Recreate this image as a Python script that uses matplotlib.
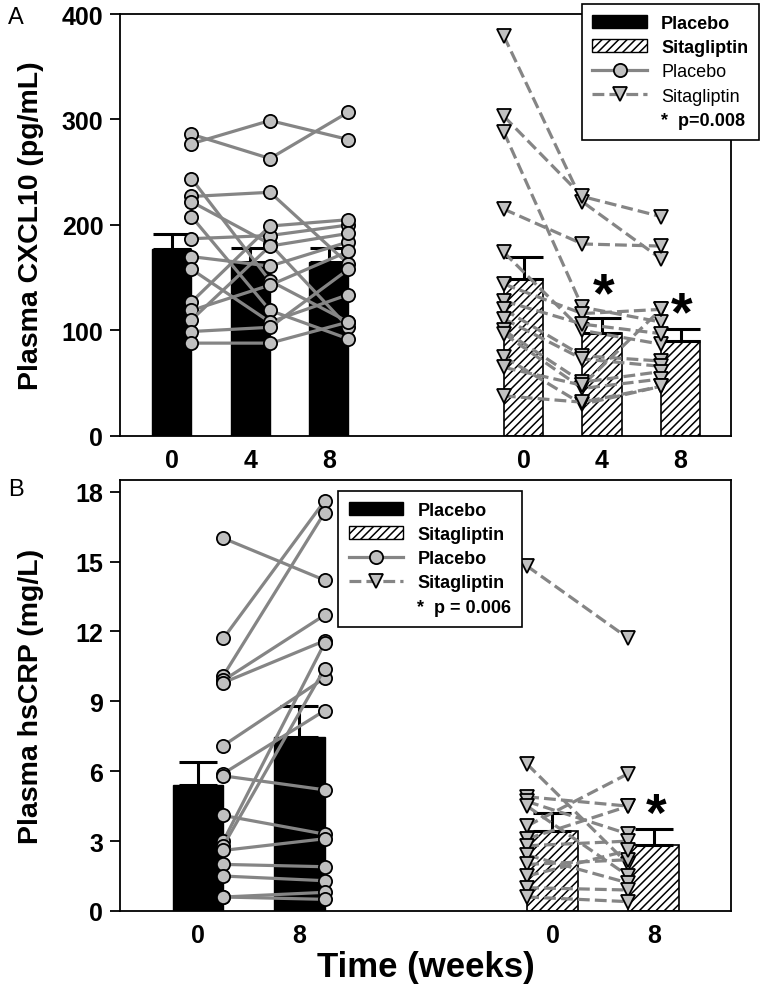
import matplotlib
matplotlib.use('Agg')
import matplotlib.pyplot as plt
from matplotlib.patches import Patch
from matplotlib.lines import Line2D

plt.rcParams['font.family'] = ['Liberation Sans', 'DejaVu Sans']
plt.rcParams['hatch.linewidth'] = 1.1

# panel A: CXCL10 (pg/mL), weeks 0/4/8
cxcl_weeks = ['0', '4', '8']
cxcl_pla_mean = [177, 165, 165]
cxcl_pla_sem = [14, 13, 13]
cxcl_sita_mean = [149, 98, 90]
cxcl_sita_sem = [21, 14, 11]
cxcl_pla_subj = [
    [286, 263, 307], [277, 299, 281], [244, 147, 108], [227, 231, 163],
    [222, 182, 103], [208, 119, 92], [187, 190, 200], [170, 161, 184],
    [158, 108, 134], [127, 199, 205], [119, 143, 175], [110, 180, 192],
    [99, 103, 158], [88, 88, 108],
]
cxcl_sita_subj = [
    [379, 222, 168], [303, 227, 208], [288, 122, 108], [215, 182, 180],
    [174, 100, 87], [144, 116, 120], [128, 106, 97], [120, 76, 71],
    [111, 73, 66], [100, 51, 61], [97, 45, 54], [75, 30, 47],
    [65, 48, 120], [38, 32, 47],
]

# panel B: hsCRP (mg/L), weeks 0/8
crp_weeks = ['0', '8']
crp_pla_mean = [5.4, 7.45]
crp_pla_sem = [1.0, 1.35]
crp_sita_mean = [3.45, 2.85]
crp_sita_sem = [0.75, 0.65]
crp_pla_subj = [
    [16.0, 14.2], [11.7, 17.6], [10.1, 17.1], [9.9, 12.7], [9.8, 11.6],
    [7.1, 10.0], [5.9, 8.6], [5.8, 5.2], [4.1, 3.3], [3.0, 11.5],
    [2.8, 10.4], [2.6, 3.1], [2.0, 1.9], [1.5, 1.3], [0.6, 0.8], [0.6, 0.5],
]
crp_sita_subj = [
    [14.8, 11.7], [6.3, 2.0], [4.9, 4.5], [4.7, 3.3], [4.5, 1.5],
    [3.65, 5.9], [3.1, 4.5], [2.8, 3.0], [2.4, 1.2], [2.0, 2.2],
    [1.5, 2.6], [1.0, 0.9], [0.6, 0.4],
]

LINE_C = '#858585'
FILL_C = '#c0c0c0'


def panel(ax, xp, xs, weeks, pm, pse, sm, sse, psubj, ssubj, bw):
    ax.bar(xp, pm, bw, color='black', edgecolor='black', zorder=1)
    ax.bar(xs, sm, bw, color='white', edgecolor='black', hatch='////', lw=1.2, zorder=1)
    ax.errorbar(xp, pm, yerr=[[0] * len(pm), pse], fmt='none', ecolor='black',
                elinewidth=2.2, capsize=14, capthick=2.2, zorder=2)
    ax.errorbar(xs, sm, yerr=[[0] * len(sm), sse], fmt='none', ecolor='black',
                elinewidth=2.2, capsize=14, capthick=2.2, zorder=2)
    xpo = [x + bw / 2 for x in xp]
    xso = [x - bw / 2 for x in xs]
    for s in psubj:
        ax.plot(xpo, s, color=LINE_C, lw=2.3, marker='o', ms=9.5, mfc=FILL_C,
                mec='black', mew=1.3, zorder=3, clip_on=False)
    for s in ssubj:
        ax.plot(xso, s, color=LINE_C, lw=2.3, ls='--', marker='v', ms=10.5, mfc=FILL_C,
                mec='black', mew=1.3, zorder=3, clip_on=False)
    ax.set_xticks(list(xp) + list(xs))
    ax.set_xticklabels(weeks + weeks)
    ax.tick_params(axis='x', length=0, pad=9, labelsize=18)
    ax.tick_params(axis='y', length=7, width=1.3, labelsize=18, direction='out', pad=5)
    for lab in ax.get_xticklabels() + ax.get_yticklabels():
        lab.set_fontweight('bold')
    for sp in ax.spines.values():
        sp.set_linewidth(1.3)


fig = plt.figure(figsize=(7.62, 9.87), dpi=100)

axA = fig.add_axes([0.1575, 0.5573, 0.8015, 0.4275])
panel(axA, [0, 1, 2], [4.48, 5.48, 6.48], cxcl_weeks, cxcl_pla_mean, cxcl_pla_sem,
      cxcl_sita_mean, cxcl_sita_sem, cxcl_pla_subj, cxcl_sita_subj, 0.5)
axA.set_xlim(-0.66, 7.12)
axA.set_ylim(0, 400)
axA.set_yticks([0, 100, 200, 300, 400])
axA.set_ylabel('Plasma CXCL10 (pg/mL)', fontsize=20.5, fontweight='bold')
axA.yaxis.set_label_coords(-0.125, 0.5)
axA.text(5.5, 132, '*', fontsize=40, fontweight='bold', ha='center', va='center')
axA.text(6.5, 114, '*', fontsize=40, fontweight='bold', ha='center', va='center')

axB = fig.add_axes([0.1575, 0.076, 0.8015, 0.4367])
panel(axB, [0, 1], [3.5, 4.5], crp_weeks, crp_pla_mean, crp_pla_sem,
      crp_sita_mean, crp_sita_sem, crp_pla_subj, crp_sita_subj, 0.5)
axB.set_xlim(-0.77, 5.26)
axB.set_ylim(0, 18.5)
axB.set_yticks([0, 3, 6, 9, 12, 15, 18])
axB.set_ylabel('Plasma hsCRP (mg/L)', fontsize=20.5, fontweight='bold')
axB.yaxis.set_label_coords(-0.125, 0.5)
axB.set_xlabel('Time (weeks)', fontsize=25, fontweight='bold', labelpad=2)
axB.text(4.52, 4.1, '*', fontsize=38, fontweight='bold', ha='center', va='center')

handles = [
    Patch(facecolor='black', edgecolor='black'),
    Patch(facecolor='white', edgecolor='black', hatch='////'),
    Line2D([], [], color=LINE_C, lw=2.3, marker='o', ms=9.5, mfc=FILL_C, mec='black', mew=1.3),
    Line2D([], [], color=LINE_C, lw=2.3, ls='--', marker='v', ms=10.5, mfc=FILL_C, mec='black', mew=1.3),
    Line2D([], [], color='none'),
]
leg_kw = dict(bbox_transform=fig.transFigure, fontsize=13, handlelength=3.0,
              handletextpad=0.8, labelspacing=0.4, numpoints=1, borderpad=0.6,
              fancybox=False, framealpha=1, edgecolor='black', borderaxespad=0)
legA = fig.legend(handles, ['Placebo', 'Sitagliptin', 'Placebo', 'Sitagliptin', '*  p=0.008'],
                  loc='upper right', bbox_to_anchor=(759 / 762, 1 - 5 / 987), **leg_kw)
legA.get_frame().set_linewidth(1.2)
for i, t in enumerate(legA.get_texts()):
    t.set_fontweight('normal' if i in (2, 3) else 'bold')

legB = fig.legend(handles, ['Placebo', 'Sitagliptin', 'Placebo', 'Sitagliptin', '*  p = 0.006'],
                  loc='upper left', bbox_to_anchor=(338 / 762, 1 - 492 / 987), **leg_kw)
legB.get_frame().set_linewidth(1.2)
for t in legB.get_texts():
    t.set_fontweight('bold')

fig.text(8 / 762, 1 - 18 / 987, 'A', fontsize=17, ha='left', va='center')
fig.text(8 / 762, 1 - 490 / 987, 'B', fontsize=17, ha='left', va='center')

fig.savefig('out.png', dpi=100)
